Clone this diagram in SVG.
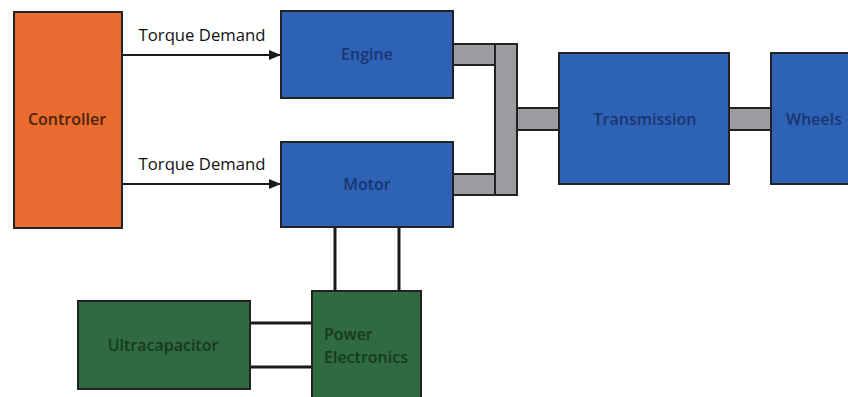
<svg xmlns="http://www.w3.org/2000/svg" width="848" height="397" viewBox="0 0 848 397">
<defs>
<style>
.box{stroke:#222;stroke-width:2}
.orange{fill:#E96B2F}
.blue{fill:#2E62B6}
.green{fill:#2F6A40}
.shaft{fill:#9C9B9F;stroke:#222;stroke-width:2}
.wire{stroke:#1a1a1a;stroke-width:3;fill:none}
.sig{stroke:#1a1a1a;stroke-width:2;fill:none}
.lbl{font-family:"Open Sans","Liberation Sans",sans-serif;font-size:16.7px;fill:#111;text-anchor:middle}
.bt{font-family:"Open Sans","Liberation Sans",sans-serif;font-size:16px;font-weight:600;text-anchor:middle}
.st{text-anchor:start}
</style>
<marker id="arr" viewBox="0 0 12 10" refX="12" refY="5" markerWidth="12" markerHeight="10" markerUnits="userSpaceOnUse" orient="auto">
<path d="M0,0 L12,5 L0,10 z" fill="#1a1a1a"/>
</marker>
</defs>
<rect width="848" height="397" fill="#fff"/>
<g id="connectors">
<line class="sig" x1="122" y1="55" x2="281" y2="55" marker-end="url(#arr)"/>
<line class="sig" x1="122" y1="184" x2="281" y2="184" marker-end="url(#arr)"/>
<rect class="shaft" x="453" y="44" width="42" height="21"/>
<rect class="shaft" x="453" y="174" width="42" height="21"/>
<rect class="shaft" x="495" y="44" width="22" height="151"/>
<rect class="shaft" x="517" y="108" width="42" height="22"/>
<rect class="shaft" x="729" y="108" width="42" height="22"/>
<line class="wire" x1="335" y1="227" x2="335" y2="291"/>
<line class="wire" x1="399" y1="227" x2="399" y2="291"/>
<line class="wire" x1="250" y1="323" x2="312" y2="323"/>
<line class="wire" x1="250" y1="367" x2="312" y2="367"/>
<text class="lbl" x="202" y="41">Torque Demand</text>
<text class="lbl" x="202" y="170">Torque Demand</text>
</g>
<g id="controller">
<rect class="box orange" x="14" y="12" width="108" height="216"/>
<text class="bt" x="67" y="125" fill="#4a2410">Controller</text>
</g>
<g id="engine">
<rect class="box blue" x="281" y="11" width="172" height="87"/>
<text class="bt" x="367" y="60" fill="#1a3570">Engine</text>
</g>
<g id="motor">
<rect class="box blue" x="281" y="142" width="172" height="85"/>
<text class="bt" x="367" y="190" fill="#1a3570">Motor</text>
</g>
<g id="transmission">
<rect class="box blue" x="559" y="53" width="170" height="131"/>
<text class="bt" x="645" y="125" fill="#1a3570">Transmission</text>
</g>
<g id="wheels">
<rect class="box blue" x="771" y="53" width="90" height="131"/>
<text class="bt" x="814" y="125" fill="#1a3570">Wheels</text>
</g>
<g id="ultracapacitor">
<rect class="box green" x="78" y="301" width="172" height="88"/>
<text class="bt" x="163" y="351" fill="#163a20">Ultracapacitor</text>
</g>
<g id="power-electronics">
<rect class="box green" x="312" y="291" width="109" height="110"/>
<text class="bt st" x="324" y="340" fill="#163a20">Power</text>
<text class="bt st" x="324" y="363" fill="#163a20">Electronics</text>
</g>
</svg>
